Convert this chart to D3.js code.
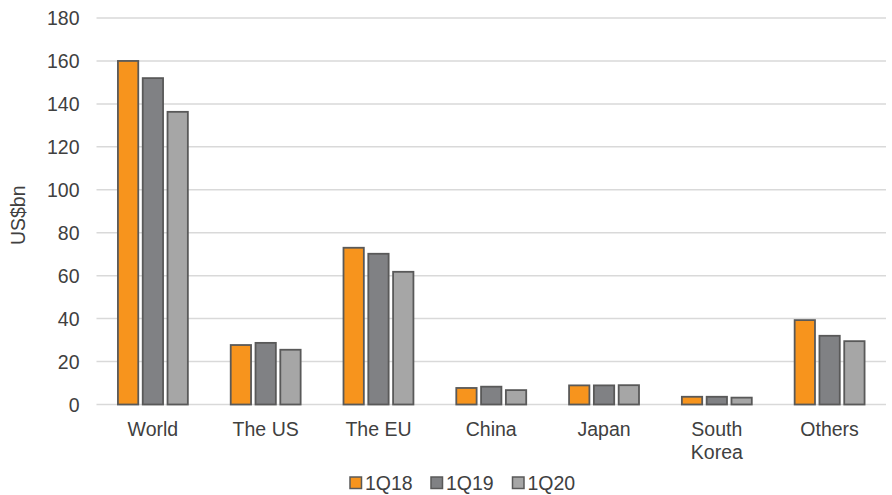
<!DOCTYPE html>
<html>
<head>
<meta charset="utf-8">
<script src="https://cdn.jsdelivr.net/npm/d3@7"></script>
<style>
  html, body { margin: 0; padding: 0; background: #ffffff; }
  svg { display: block; font-family: "Liberation Sans", Arial, sans-serif; }
</style>
</head>
<body>
<svg id="chart" width="892" height="495"></svg>
<script>
// Exports by destination, US$bn
const categories = ["World", "The US", "The EU", "China", "Japan", "South Korea", "Others"];
const seriesNames = ["1Q18", "1Q19", "1Q20"];
const values1Q18 = [160, 27.7, 73, 7.7, 8.9, 3.6, 39.3];
const values1Q19 = [152, 28.7, 70.2, 8.3, 8.9, 3.6, 32];
const values1Q20 = [136.3, 25.5, 61.8, 6.7, 9, 3.2, 29.5];
const yTicks = [0, 20, 40, 60, 80, 100, 120, 140, 160, 180];
const seriesColors = ["#F7941D", "#808184", "#A6A6A6"];

const seriesValues = [values1Q18, values1Q19, values1Q20];
const rows = categories.map((c, i) => ({
  category: c,
  bars: seriesNames.map((s, j) => ({ series: s, value: seriesValues[j][i] }))
}));

const svg = d3.select("#chart");
const margin = { left: 96.5, right: 6, top: 18, bottom: 90.5 };
const W = 892, H = 495;

const x0 = d3.scaleBand()
  .domain(categories)
  .range([margin.left, W - margin.right])
  .paddingInner(0.38)
  .paddingOuter(0.19);

const x1 = d3.scaleBand()
  .domain(seriesNames)
  .range([0, x0.bandwidth()])
  .paddingInner(0.18);

const y = d3.scaleLinear()
  .domain([0, 180])
  .range([H - margin.bottom, margin.top]);

const color = d3.scaleOrdinal().domain(seriesNames).range(seriesColors);

// Horizontal gridlines
svg.append("g")
  .selectAll("line")
  .data(yTicks)
  .join("line")
  .attr("x1", margin.left)
  .attr("x2", W - margin.right)
  .attr("y1", d => y(d))
  .attr("y2", d => y(d))
  .attr("stroke", "#D9D9D9")
  .attr("stroke-width", 1.5);

// Y axis tick labels
const yAxis = d3.axisLeft(y).tickValues(yTicks).tickSize(0).tickPadding(17);
const gy = svg.append("g")
  .attr("transform", `translate(${margin.left},0)`)
  .call(yAxis);
gy.select(".domain").remove();
gy.selectAll("text")
  .attr("fill", "#404040")
  .style("font-size", "19.5px")
  .attr("dy", "0.35em");

// Y axis title
svg.append("text")
  .attr("transform", `translate(24.5,${y(90) + 4}) rotate(-90)`)
  .attr("text-anchor", "middle")
  .attr("fill", "#404040")
  .style("font-size", "19.5px")
  .text("US$bn");

// Bars
svg.append("g")
  .selectAll("g")
  .data(rows)
  .join("g")
  .attr("transform", d => `translate(${x0(d.category)},0)`)
  .selectAll("rect")
  .data(d => d.bars)
  .join("rect")
  .attr("x", d => x1(d.series))
  .attr("y", d => y(d.value))
  .attr("width", x1.bandwidth())
  .attr("height", d => y(0) - y(d.value))
  .attr("fill", d => color(d.series))
  .attr("stroke", "#595959")
  .attr("stroke-width", 1.8);

// X axis labels (wrapped at spaces for long names)
const xLabels = svg.append("g");
categories.forEach(c => {
  const cx = x0(c) + x0.bandwidth() / 2;
  const lines = c === "South Korea" ? ["South", "Korea"] : [c];
  const t = xLabels.append("text")
    .attr("text-anchor", "middle")
    .attr("fill", "#404040")
    .style("font-size", "19.5px");
  lines.forEach((ln, k) => {
    t.append("tspan")
      .attr("x", cx)
      .attr("y", 436 + k * 22.5)
      .text(ln);
  });
});

// Legend
const legendItems = [
  { name: seriesNames[0], x: 350 },
  { name: seriesNames[1], x: 431 },
  { name: seriesNames[2], x: 512.5 }
];
const lg = svg.append("g");
legendItems.forEach(it => {
  lg.append("rect")
    .attr("x", it.x)
    .attr("y", 477)
    .attr("width", 11.5)
    .attr("height", 11.5)
    .attr("fill", color(it.name))
    .attr("stroke", "#595959")
    .attr("stroke-width", 1.5);
  lg.append("text")
    .attr("x", it.x + 15)
    .attr("y", 490)
    .attr("fill", "#404040")
    .style("font-size", "19.5px")
    .text(it.name);
});
</script>
</body>
</html>
